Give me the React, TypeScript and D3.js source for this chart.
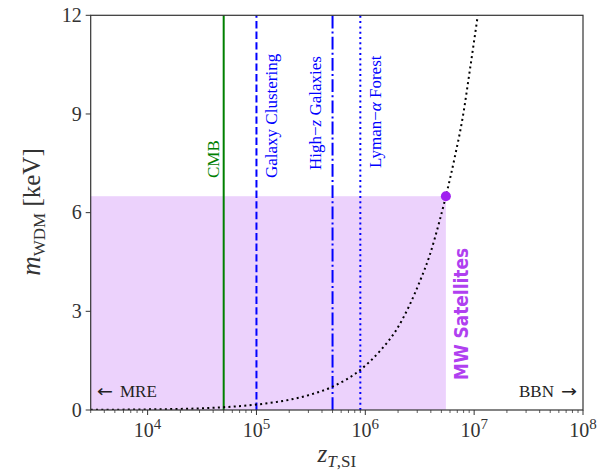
import React from "react";
import * as d3 from "d3";

// ---- data ----
const curveZ = [3e3, 1e4, 3e4, 5e4, 1e5, 2e5, 3e5, 5e5, 9e5, 1.36e6, 1.94e6, 2.56e6, 3.16e6, 3.9e6, 4.82e6, 5.5e6, 6.6e6, 7.9e6, 9.1e6, 1.08e7];
const curveM = [0.006, 0.019, 0.05, 0.085, 0.165, 0.31, 0.45, 0.71, 1.22, 1.79, 2.45, 3.2, 3.9, 4.7, 5.76, 6.5, 7.65, 8.95, 10.3, 12];

const constraintNames = ["CMB", "Galaxy Clustering", "High-z Galaxies", "Lyman-α Forest"];
const constraintZ = [5e4, 1e5, 5e5, 9e5];

const mwZ = 5.5e6;
const mwM = 6.5;

const xDomain = [3e3, 1e8];
const yDomain = [0, 12];
const yTicks = [0, 3, 6, 9, 12];
const xMajorExp = [4, 5, 6, 7, 8];

const W = 605, H = 475;
const M = { left: 90.7, right: 583, top: 15.3, bottom: 410 };

const SERIF = "'Liberation Serif', 'Times New Roman', serif";
const ARROWFONT = "'DejaVu Sans', sans-serif";

export default function App() {
  const x = d3.scaleLog().domain(xDomain).range([M.left, M.right]);
  const y = d3.scaleLinear().domain(yDomain).range([M.bottom, M.top]);

  const pts = curveZ.map((z, i) => [z, curveM[i]] as [number, number]);
  const line = d3
    .line<[number, number]>()
    .x((d) => x(d[0]))
    .y((d) => y(d[1]))
    .curve(d3.curveMonotoneX);

  const minor: number[] = [];
  for (let e = 3; e < 8; e++) {
    for (let k = 2; k <= 9; k++) {
      const v = k * Math.pow(10, e);
      if (v >= xDomain[0] && v <= xDomain[1]) minor.push(v);
    }
  }

  const styles = [
    { color: "#008000", dash: undefined as string | undefined },
    { color: "#0000ff", dash: "7.4,3.2" },
    { color: "#0000ff", dash: "12.8,3.2,2,3.2" },
    { color: "#0000ff", dash: "2,3.3" },
  ];
  const labelDx = [-5, 21, -12, 21];
  const labelY = [178, 178, 170, 168];

  const purple = "#a020f0";

  return (
    <svg width={W} height={H} style={{ position: "absolute", left: 0, top: 0, background: "#fff" }}>
      <defs>
        <clipPath id="plot">
          <rect x={M.left} y={M.top} width={M.right - M.left} height={M.bottom - M.top} />
        </clipPath>
      </defs>

      {/* MW satellites region */}
      <rect
        x={x(xDomain[0])}
        y={y(mwM)}
        width={x(mwZ) - x(xDomain[0])}
        height={y(0) - y(mwM)}
        fill={purple}
        fillOpacity={0.2}
      />

      {/* constraint lines */}
      {constraintZ.map((z, i) => (
        <line
          key={i}
          x1={x(z)}
          x2={x(z)}
          y1={y(yDomain[0])}
          y2={y(yDomain[1])}
          stroke={styles[i].color}
          strokeWidth={2}
          strokeDasharray={styles[i].dash}
        />
      ))}

      {/* curve */}
      <path
        d={line(pts) || ""}
        fill="none"
        stroke="#000"
        strokeWidth={2}
        strokeDasharray="2,3.3"
        clipPath="url(#plot)"
      />

      {/* MW point */}
      <circle cx={x(mwZ)} cy={y(mwM)} r={5} fill={purple} />

      {/* constraint labels */}
      {constraintZ.map((z, i) => {
        const lx = x(z) + labelDx[i];
        const ly = labelY[i];
        const name = constraintNames[i];
        let content: React.ReactNode = name;
        if (i === 2)
          content = (
            <>
              High−<tspan fontStyle="italic">z</tspan> Galaxies
            </>
          );
        if (i === 3)
          content = (
            <>
              Lyman−<tspan fontStyle="italic">α</tspan> Forest
            </>
          );
        return (
          <text
            key={i}
            transform={`translate(${lx},${ly}) rotate(-90)`}
            fontFamily={SERIF}
            fontSize={17}
            fill={styles[i].color}
            textAnchor="start"
          >
            {content}
          </text>
        );
      })}

      {/* MW Satellites label */}
      <text
        transform={`translate(${x(mwZ) + 22},${380}) rotate(-90)`}
        fontFamily="'DejaVu Sans', sans-serif"
        fontWeight="bold"
        fontSize={19}
        fill="#b040f0"
        textAnchor="start"
        textLength={132}
        lengthAdjust="spacingAndGlyphs"
      >
        MW Satellites
      </text>

      {/* MRE / BBN */}
      <text x={97} y={397} fontFamily={ARROWFONT} fontSize={17} fill="#222" textLength={16} lengthAdjust="spacingAndGlyphs">
        ←
      </text>
      <text x={120} y={397} fontFamily={SERIF} fontSize={17} fill="#222">
        MRE
      </text>
      <text x={554} y={397} fontFamily={SERIF} fontSize={17} fill="#222" textAnchor="end">
        BBN
      </text>
      <text x={561} y={397} fontFamily={ARROWFONT} fontSize={17} fill="#222" textLength={16} lengthAdjust="spacingAndGlyphs">
        →
      </text>

      {/* frame */}
      <rect
        x={M.left}
        y={M.top}
        width={M.right - M.left}
        height={M.bottom - M.top}
        fill="none"
        stroke="#333"
        strokeWidth={1.2}
      />

      {/* y ticks */}
      {yTicks.map((t) => (
        <g key={t}>
          <line x1={M.left - 5} x2={M.left} y1={y(t)} y2={y(t)} stroke="#333" strokeWidth={1} />
          <text
            x={M.left - 9}
            y={y(t)}
            dy="0.34em"
            textAnchor="end"
            fontFamily={SERIF}
            fontSize={20}
            fill="#333"
          >
            {t}
          </text>
        </g>
      ))}

      {/* x ticks */}
      {minor.map((v) => (
        <line key={v} x1={x(v)} x2={x(v)} y1={M.bottom} y2={M.bottom + 3} stroke="#333" strokeWidth={0.8} />
      ))}
      {xMajorExp.map((e) => {
        const v = Math.pow(10, e);
        return (
          <g key={e}>
            <line x1={x(v)} x2={x(v)} y1={M.bottom} y2={M.bottom + 5} stroke="#333" strokeWidth={1} />
            <text x={x(v)} y={437} textAnchor="middle" fontFamily={SERIF} fontSize={20} fill="#333">
              10
              <tspan fontSize={15} dy={-8}>
                {e}
              </tspan>
            </text>
          </g>
        );
      })}

      {/* axis labels */}
      <text x={(M.left + M.right) / 2} y={462} textAnchor="middle" fontFamily={SERIF} fontSize={25} fill="#333">
        <tspan fontStyle="italic">z</tspan>
        <tspan fontSize={17} dy={5} fontStyle="italic">T</tspan>
        <tspan fontSize={17}>,SI</tspan>
      </text>
      <text
        transform={`translate(${40},${212}) rotate(-90)`}
        textAnchor="middle"
        fontFamily={SERIF}
        fontSize={25}
        fill="#333"
      >
        <tspan fontStyle="italic" fontSize={27}>m</tspan>
        <tspan fontSize={17} dy={5}>WDM</tspan>
        <tspan dy={-5}> [keV]</tspan>
      </text>
    </svg>
  );
}
